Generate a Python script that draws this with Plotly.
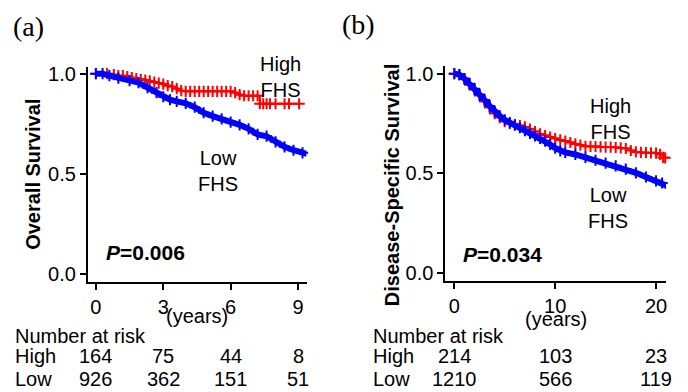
import plotly.graph_objects as go

# ---------------- Panel (a): Overall Survival ----------------
a_high_t = [0, 0.5, 0.8, 1.0, 1.2, 1.4, 1.6, 1.8, 2.0, 2.2, 2.4, 2.6, 2.8, 3.0, 3.2, 3.4,
            3.6, 3.8, 4.0, 4.2, 4.4, 4.6, 4.8, 5.0, 5.2, 5.4, 5.6, 5.8, 6.0, 6.2, 6.4,
            6.6, 6.8, 7.0, 7.2, 7.3, 7.45, 7.6, 7.75, 8.0, 8.4, 8.6, 9.05]
a_high_s = [1.0, 1.0, 0.995, 0.99, 0.99, 0.985, 0.98, 0.975, 0.972, 0.968, 0.964, 0.958,
            0.953, 0.948, 0.94, 0.935, 0.925, 0.915, 0.912, 0.912, 0.912, 0.912, 0.912,
            0.912, 0.912, 0.912, 0.912, 0.912, 0.912, 0.905, 0.895, 0.89, 0.89, 0.89,
            0.89, 0.85, 0.85, 0.85, 0.85, 0.85, 0.85, 0.85, 0.85]
a_low_t = [0, 0.3, 0.6, 1.0, 1.5, 1.9, 2.3, 2.7, 3.0, 3.3, 3.6, 4.0, 4.4, 4.8, 5.2, 5.6,
           6.0, 6.4, 6.8, 7.2, 7.6, 8.0, 8.4, 8.8, 9.2, 9.4]
a_low_s = [1.0, 1.0, 0.99, 0.978, 0.965, 0.955, 0.93, 0.905, 0.885, 0.87, 0.862, 0.852,
           0.833, 0.805, 0.788, 0.775, 0.758, 0.745, 0.725, 0.697, 0.688, 0.66, 0.635,
           0.618, 0.605, 0.6]
a_ticks = [0, 3, 6, 9]
a_risk_high = [164, 75, 44, 8]
a_risk_low = [926, 362, 151, 51]
a_pvalue = "0.006"
a_ytitle = "Overall Survival"

# ---------------- Panel (b): Disease-Specific Survival ----------------
b_high_t = [0, 0.5, 1.0, 1.5, 2.0, 2.5, 3.0, 3.5, 4.0, 4.5, 5.0, 5.5, 6.0, 6.5, 7.0, 7.5,
            8.0, 8.5, 9.0, 9.5, 10.0, 10.5, 11.0, 11.5, 12.0, 12.5, 13.0, 13.5, 14.0, 14.5,
            15.0, 15.5, 16.0, 16.5, 17.0, 17.5, 18.0, 18.5, 19.0, 19.5, 20.0, 20.4, 20.7, 20.9]
b_high_s = [1.0, 0.995, 0.975, 0.945, 0.92, 0.89, 0.86, 0.83, 0.8, 0.78, 0.76, 0.75, 0.745,
            0.74, 0.733, 0.722, 0.71, 0.698, 0.69, 0.682, 0.675, 0.668, 0.662, 0.655, 0.648,
            0.642, 0.636, 0.635, 0.635, 0.633, 0.632, 0.632, 0.63, 0.628, 0.625, 0.615,
            0.608, 0.605, 0.604, 0.603, 0.602, 0.595, 0.58, 0.578]
b_low_t = [0, 0.5, 1.0, 1.5, 2.0, 2.5, 3.0, 3.5, 4.0, 4.5, 5.0, 5.5, 6.0, 6.5, 7.0, 7.5,
           8.0, 8.5, 9.0, 9.5, 10.0, 10.5, 11.0, 12.0, 13.0, 14.0, 15.0, 16.0, 17.0, 18.0,
           19.0, 20.0, 20.6, 21.0, 21.3]
b_low_s = [1.0, 0.995, 0.975, 0.95, 0.925, 0.895, 0.868, 0.838, 0.81, 0.788, 0.768, 0.755,
           0.742, 0.73, 0.715, 0.7, 0.688, 0.676, 0.662, 0.645, 0.627, 0.613, 0.605, 0.595,
           0.58, 0.566, 0.552, 0.538, 0.522, 0.503, 0.482, 0.463, 0.452, 0.44, 0.425]
b_ticks = [0, 10, 20]
b_risk_high = [214, 103, 23]
b_risk_low = [1210, 566, 119]
b_pvalue = "0.034"
b_ytitle = "Disease-Specific Survival"

group_labels = ["High", "Low"]
RED = "#ff0000"
BLUE = "#0000ff"
SANS = "Liberation Sans, Arial, sans-serif"
SERIF = "Liberation Serif, Times New Roman, serif"
W, H = 688, 392


def px_x(p):
    return p / W


def px_y(p):
    return 1 - p / H


fig = go.Figure()


def add_curves(ht, hs, lt, ls, xa, ya):
    fig.add_trace(go.Scatter(
        x=ht, y=hs, mode="lines+markers", xaxis=xa, yaxis=ya,
        line=dict(color=RED, width=2, shape="hv"),
        marker=dict(symbol="cross-thin", size=8, line=dict(color=RED, width=2)),
        showlegend=False, hoverinfo="skip", cliponaxis=False))
    fig.add_trace(go.Scatter(
        x=lt, y=ls, mode="lines+markers", xaxis=xa, yaxis=ya,
        line=dict(color=BLUE, width=6),
        marker=dict(symbol="cross-thin", size=8, line=dict(color=BLUE, width=2)),
        showlegend=False, hoverinfo="skip", cliponaxis=False))


add_curves(a_high_t, a_high_s, a_low_t, a_low_s, "x", "y")
add_curves(b_high_t, b_high_s, b_low_t, b_low_s, "x2", "y2")

axis_common = dict(showline=True, linecolor="black", linewidth=2, ticks="outside",
                   ticklen=6, tickwidth=1.5, tickcolor="black", showgrid=False,
                   zeroline=False, tickfont=dict(family=SANS, size=20, color="black"),
                   fixedrange=True)

ann = []


def text(x, y, s, size=20, xref="paper", yref="paper", xanchor="center",
         yanchor="middle", family=SANS, angle=0):
    ann.append(dict(x=x, y=y, text=s, xref=xref, yref=yref, showarrow=False,
                    xanchor=xanchor, yanchor=yanchor, textangle=angle,
                    font=dict(family=family, size=size, color="black")))


# panel letters
text(px_x(29), px_y(23), "(a)", size=28, family=SERIF)
text(px_x(359), px_y(21), "(b)", size=28, family=SERIF)

# y titles
text(px_x(33), px_y(173), "<b>%s</b>" % a_ytitle, angle=-90)
text(px_x(392), px_y(184), "<b>%s</b>" % b_ytitle, angle=-90)

# group labels in plot
text(8.22, 0.983, "High<br>FHS", xref="x", yref="y")
text(5.42, 0.515, "Low<br>FHS", xref="x", yref="y")
text(15.45, 0.771, "High<br>FHS", xref="x2", yref="y2")
text(15.25, 0.328, "Low<br>FHS", xref="x2", yref="y2")

# p-values
text(0.36, 0.108, "<b><i>P</i>=%s</b>" % a_pvalue, size=21, xref="x", yref="y",
     xanchor="left")
text(0.69, 0.094, "<b><i>P</i>=%s</b>" % b_pvalue, size=21, xref="x2", yref="y2",
     xanchor="left")

# (years)
text(px_x(197), px_y(318), "(years)")
text(px_x(557), px_y(321), "(years)")

# risk tables
for left, xref, ticks, hi, lo in [(13, "x", a_ticks, a_risk_high, a_risk_low),
                                  (372, "x2", b_ticks, b_risk_high, b_risk_low)]:
    text(px_x(left), px_y(338), "Number at risk", xanchor="left")
    text(px_x(left), px_y(358), group_labels[0], xanchor="left")
    text(px_x(left), px_y(382), group_labels[1], xanchor="left")
    for t, h, l in zip(ticks, hi, lo):
        text(t, px_y(358), str(h), xref=xref)
        text(t, px_y(382), str(l), xref=xref)

fig.update_layout(
    width=W, height=H, margin=dict(l=0, r=0, t=0, b=0),
    paper_bgcolor="white", plot_bgcolor="white", showlegend=False,
    xaxis=dict(domain=[px_x(88), px_x(307)], range=[-0.356, 9.38], anchor="y",
               tickvals=a_ticks, **axis_common),
    yaxis=dict(domain=[px_y(283), px_y(64)], range=[-0.039, 1.034], anchor="x",
               tickvals=[0, 0.5, 1.0], ticktext=["0.0", "0.5", "1.0"], **axis_common),
    xaxis2=dict(domain=[px_x(446), px_x(667)], range=[-0.89, 20.99], anchor="y2",
                tickvals=b_ticks, **axis_common),
    yaxis2=dict(domain=[px_y(282), px_y(63)], range=[-0.039, 1.039], anchor="x2",
                tickvals=[0, 0.5, 1.0], ticktext=["0.0", "0.5", "1.0"], **axis_common),
    annotations=ann,
)

fig.write_html("out.html",
               config={"displayModeBar": False},
               post_script="document.body.style.margin='0px';"
                           "document.body.style.overflow='hidden';")
